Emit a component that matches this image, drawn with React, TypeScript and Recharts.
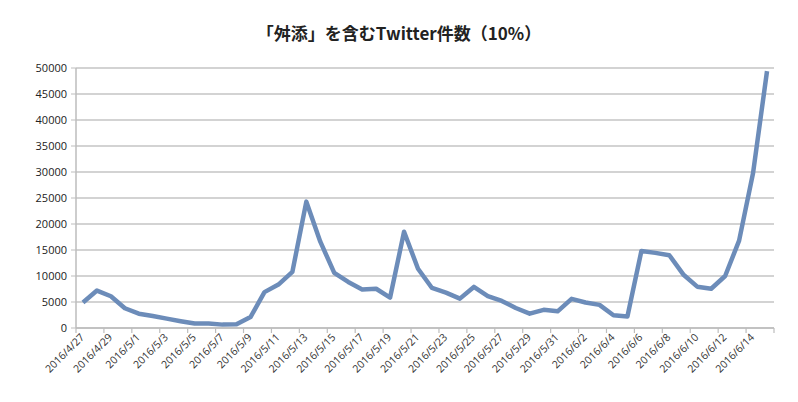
import React from "react";
import { LineChart, Line, XAxis, YAxis, CartesianGrid } from "recharts";

const dates = [
  "2016/4/27", "2016/4/28", "2016/4/29", "2016/4/30",
  "2016/5/1", "2016/5/2", "2016/5/3", "2016/5/4", "2016/5/5", "2016/5/6", "2016/5/7", "2016/5/8",
  "2016/5/9", "2016/5/10", "2016/5/11", "2016/5/12", "2016/5/13", "2016/5/14", "2016/5/15", "2016/5/16",
  "2016/5/17", "2016/5/18", "2016/5/19", "2016/5/20", "2016/5/21", "2016/5/22", "2016/5/23", "2016/5/24",
  "2016/5/25", "2016/5/26", "2016/5/27", "2016/5/28", "2016/5/29", "2016/5/30", "2016/5/31",
  "2016/6/1", "2016/6/2", "2016/6/3", "2016/6/4", "2016/6/5", "2016/6/6", "2016/6/7", "2016/6/8",
  "2016/6/9", "2016/6/10", "2016/6/11", "2016/6/12", "2016/6/13", "2016/6/14", "2016/6/15",
];

const counts = [
  4900, 7200, 6100, 3800,
  2750, 2300, 1800, 1300, 850, 850, 650, 700,
  2100, 6900, 8350, 10800, 24300, 16600, 10600, 8850,
  7400, 7550, 5850, 18500, 11400, 7700, 6800, 5650,
  7900, 6150, 5200, 3850, 2750, 3500, 3200,
  5600, 4900, 4450, 2450, 2200, 14800, 14450, 14000,
  10300, 7950, 7550, 10000, 16800, 29800, 49400,
];

const yTicks = [0, 5000, 10000, 15000, 20000, 25000, 30000, 35000, 40000, 45000, 50000];

const data = dates.map((d, i) => ({ date: d, count: counts[i] }));

const CHART_W = 798;
const CHART_H = 402;
const PLOT_LEFT = 76;
const PLOT_RIGHT = 24;
const STEP = (CHART_W - PLOT_LEFT - PLOT_RIGHT) / dates.length;

function DateTick({ x, y, payload, index }: { x?: number; y?: number; payload?: { value: string; index?: number }; index?: number }) {
  if (x == null || y == null || !payload) return null;
  const axisY = y - 8;
  const isLast = payload.index === dates.length - 2 || index === dates.length - 2;
  return (
    <g>
      <line x1={x - STEP / 2} x2={x - STEP / 2} y1={axisY} y2={axisY + 5} stroke="#bdbdbd" strokeWidth={1.2} />
      {isLast && (
        <line x1={x + STEP * 1.5} x2={x + STEP * 1.5} y1={axisY} y2={axisY + 5} stroke="#bdbdbd" strokeWidth={1.2} />
      )}
      <text
        x={x + 2}
        y={y + 2}
        textAnchor="end"
        transform={`rotate(-45, ${x + 2}, ${y + 2})`}
        fontSize={10.5}
        fill="#333"
        fontFamily="'Open Sans', 'Noto Sans', sans-serif"
      >
        {payload.value}
      </text>
    </g>
  );
}

export default function App() {
  return (
    <div style={{ position: "absolute", left: 0, top: 0, width: CHART_W, height: CHART_H, background: "#fff" }}>
      <div
        style={{
          position: "absolute",
          top: 20,
          left: 0,
          width: CHART_W,
          textAlign: "center",
          fontFamily: "'Noto Sans CJK JP', 'Noto Sans', sans-serif",
          fontWeight: 700,
          fontSize: 17,
          color: "#222",
        }}
      >
        「舛添」を含むTwitter件数（10%）
      </div>
      <LineChart
        width={CHART_W}
        height={CHART_H}
        data={data}
        margin={{ top: 68, right: PLOT_RIGHT, left: 0, bottom: 0 }}
      >
        <CartesianGrid vertical={false} stroke="#c4c4c4" strokeWidth={1.5} />
        <XAxis
          dataKey="date"
          interval={1}
          height={74}
          padding={{ left: STEP / 2, right: STEP / 2 }}
          tick={<DateTick />}
          tickLine={false}
          axisLine={{ stroke: "#bdbdbd", strokeWidth: 1.5 }}
        />
        <YAxis
          width={PLOT_LEFT}
          domain={[0, 50000]}
          ticks={yTicks}
          interval={0}
          tickSize={5}
          tickMargin={4}
          tick={{ fontSize: 11, fill: "#222", fontFamily: "'Open Sans', 'Noto Sans', sans-serif" }}
          tickLine={{ stroke: "#bdbdbd" }}
          axisLine={{ stroke: "#bdbdbd", strokeWidth: 1.5 }}
        />
        <Line
          type="linear"
          dataKey="count"
          stroke="#6c8cb9"
          strokeWidth={4.5}
          dot={false}
          isAnimationActive={false}
          strokeLinejoin="round"
        />
      </LineChart>
    </div>
  );
}
